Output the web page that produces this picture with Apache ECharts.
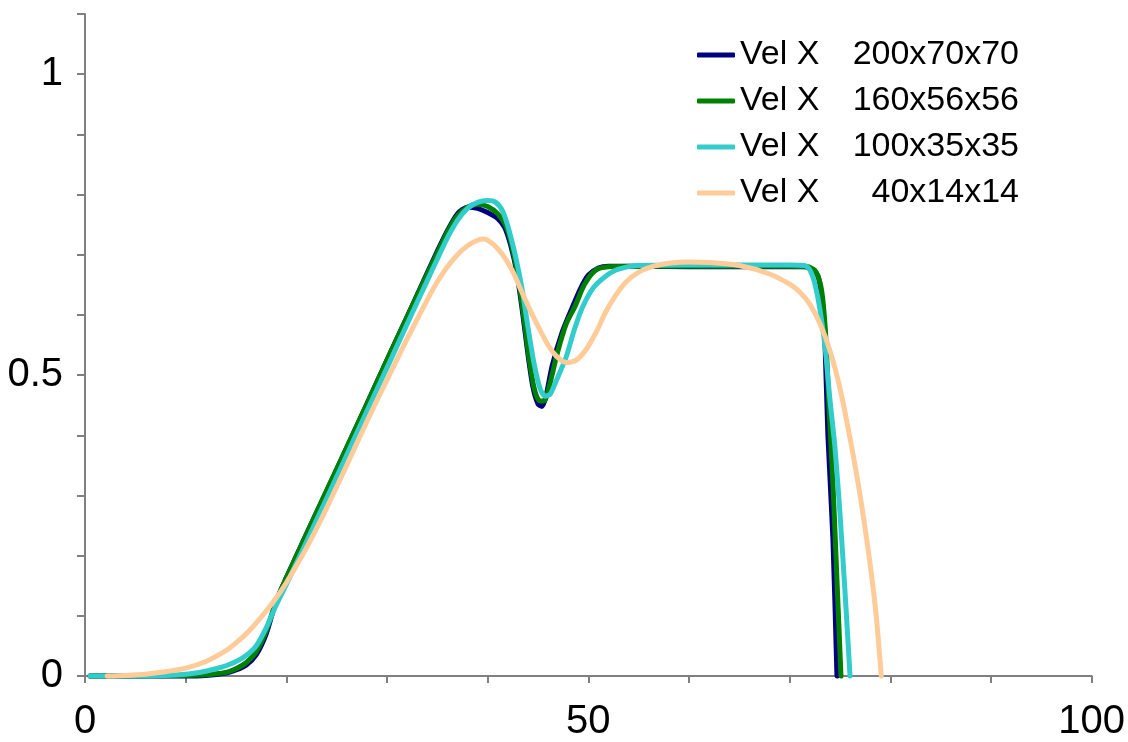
<!DOCTYPE html>
<html>
<head>
<meta charset="utf-8">
<script src="https://cdn.jsdelivr.net/npm/echarts@6/dist/echarts.min.js"></script>
<style>
html,body{margin:0;padding:0;background:#fff;}
#chart{width:1128px;height:742px;}
</style>
</head>
<body>
<div id="chart"></div>
<script>
const seriesNames = ['200x70x70', '160x56x56', '100x35x35', '40x14x14'];
const seriesColors = ['#000080', '#008000', '#33CCCC', '#FFCC99'];
const xTickLabels = ['0', '50', '100'];
const yTickLabels = ['0', '0.5', '1'];

const vel200 = [[0.5,0],[5,0],[10,0],[12,0.001],[14,0.005],[15,0.01],[16,0.018],[17,0.035],[18,0.07],[19,0.125],[20,0.163],[22,0.236],[24,0.307],[26,0.379],[28,0.452],[30,0.525],[32,0.597],[34,0.67],[35,0.706],[36,0.74],[37,0.768],[38,0.779],[39,0.777],[40,0.77],[41,0.76],[41.7,0.745],[42.3,0.715],[42.9,0.67],[43.5,0.6],[44,0.535],[44.5,0.48],[45,0.452],[45.4,0.448],[45.8,0.465],[46.4,0.515],[47.4,0.571],[48.4,0.612],[49.2,0.643],[50,0.666],[51,0.678],[52,0.681],[55,0.681],[60,0.68],[65,0.68],[70,0.68],[71.5,0.68],[72.2,0.676],[72.8,0.665],[73.1,0.64],[73.3,0.605],[73.5,0.56],[73.8,0.40],[74.3,0.228],[74.7,0]];

const vel160 = [[0.5,0],[5,0],[10,0.001],[12,0.002],[14,0.006],[15,0.012],[16,0.022],[17,0.04],[18,0.075],[19,0.125],[20,0.163],[22,0.236],[24,0.308],[26,0.38],[28,0.452],[30,0.525],[32,0.597],[34,0.668],[35,0.703],[36,0.738],[37,0.765],[38,0.779],[39,0.784],[40,0.78],[41,0.768],[41.8,0.748],[42.4,0.715],[43,0.665],[43.6,0.595],[44.1,0.53],[44.6,0.48],[45.1,0.458],[45.6,0.457],[46.1,0.48],[46.9,0.535],[47.8,0.585],[48.7,0.615],[49.6,0.65],[50.7,0.674],[52,0.68],[55,0.681],[60,0.681],[65,0.681],[70,0.681],[71.8,0.68],[72.5,0.674],[73,0.655],[73.3,0.625],[73.6,0.56],[73.9,0.45],[74.3,0.32],[74.7,0.16],[75.1,0]];

const vel100 = [[0.5,0],[5,0],[8,0.001],[10,0.003],[11,0.005],[12,0.008],[13,0.012],[14,0.017],[15,0.024],[16,0.034],[17,0.05],[18,0.08],[19,0.118],[20,0.152],[22,0.223],[24,0.295],[26,0.367],[28,0.44],[30,0.512],[32,0.585],[34,0.657],[35,0.693],[36,0.728],[37,0.757],[38,0.777],[39,0.787],[40,0.79],[40.8,0.787],[41.5,0.772],[42.1,0.742],[42.8,0.695],[43.4,0.645],[44,0.58],[44.6,0.52],[45.2,0.478],[45.7,0.465],[46.2,0.468],[46.8,0.49],[47.8,0.53],[48.6,0.575],[49.4,0.612],[50.5,0.645],[51.7,0.664],[53,0.676],[55,0.682],[60,0.683],[65,0.683],[70,0.683],[71.5,0.682],[72,0.675],[72.5,0.652],[73,0.61],[73.5,0.55],[74,0.46],[74.5,0.38],[75,0.27],[75.5,0.14],[76,0]];

const vel40 = [[2.2,0],[4,0.001],[6,0.003],[8,0.007],[10,0.013],[12,0.024],[14,0.042],[15,0.055],[16,0.07],[17,0.088],[18,0.108],[19,0.13],[20,0.155],[21,0.183],[22,0.213],[23,0.245],[24,0.279],[26,0.35],[28,0.423],[30,0.492],[32,0.56],[34,0.625],[35,0.655],[36,0.68],[37,0.7],[38,0.715],[39,0.724],[39.6,0.726],[40.5,0.718],[41.5,0.7],[42.5,0.672],[43.4,0.638],[44.3,0.605],[45.1,0.578],[46,0.55],[46.8,0.532],[47.8,0.521],[48.8,0.525],[49.8,0.543],[50.8,0.572],[51.7,0.604],[52.7,0.632],[53.7,0.654],[55,0.671],[56.5,0.681],[58,0.686],[60,0.688],[62,0.687],[65,0.682],[68,0.668],[70,0.651],[71,0.638],[72,0.618],[73,0.586],[74,0.541],[75,0.478],[76,0.395],[77,0.3],[78,0.185],[78.6,0.1],[79.1,0]];

const seriesData = [vel200, vel160, vel100, vel40];

const chart = echarts.init(document.getElementById('chart'), null, {renderer: 'canvas'});
const font = 'Liberation Sans, Arial, sans-serif';

function near(v, t) { return Math.abs(v - t) < 1e-6; }

const option = {
  backgroundColor: '#ffffff',
  animation: false,
  textStyle: {fontFamily: font},
  grid: {left: 85, right: 34, top: 14, bottom: 65, containLabel: false},
  legend: {
    orient: 'vertical',
    left: 692,
    top: 33,
    icon: 'roundRect',
    itemWidth: 38,
    itemHeight: 5,
    itemGap: 12,
    data: seriesNames.map(n => 'Vel X ' + n),
    formatter: function (name) {
      const parts = name.split(' ');
      return '{a|Vel X}{b|' + parts[2] + '}';
    },
    textStyle: {
      fontFamily: font,
      color: '#000',
      fontSize: 34,
      rich: {
        a: {fontFamily: font, fontSize: 34, color: '#000', width: 100, align: 'left', lineHeight: 36},
        b: {fontFamily: font, fontSize: 34, color: '#000', width: 179, align: 'right', lineHeight: 36}
      }
    }
  },
  xAxis: {
    type: 'value',
    min: 0,
    max: 100,
    interval: 10,
    splitLine: {show: false},
    axisLine: {show: true, onZero: false, lineStyle: {color: '#808080', width: 2}},
    axisTick: {show: true, inside: false, length: 7, lineStyle: {color: '#808080', width: 2}},
    axisLabel: {
      margin: 26,
      fontSize: 40,
      color: '#000',
      fontFamily: font,
      formatter: function (v) {
        for (const t of xTickLabels) { if (near(v, +t)) return t; }
        return '';
      }
    }
  },
  yAxis: {
    type: 'value',
    min: 0,
    max: 1.1,
    interval: 0.1,
    splitLine: {show: false},
    axisLine: {show: true, onZero: false, lineStyle: {color: '#808080', width: 2}},
    axisTick: {show: true, inside: false, length: 8, lineStyle: {color: '#808080', width: 2}},
    axisLabel: {
      margin: 22,
      fontSize: 40,
      color: '#000',
      fontFamily: font,
      formatter: function (v) {
        for (const t of yTickLabels) { if (near(v, +t)) return t; }
        return '';
      }
    }
  },
  series: seriesNames.map((n, i) => ({
    name: 'Vel X ' + n,
    type: 'line',
    data: seriesData[i],
    showSymbol: false,
    symbol: 'none',
    smooth: 0.25,
    clip: false,
    z: 2 + i,
    lineStyle: {color: seriesColors[i], width: 5, cap: 'round', join: 'round'},
    itemStyle: {color: seriesColors[i]}
  }))
};
chart.setOption(option);
</script>
</body>
</html>
